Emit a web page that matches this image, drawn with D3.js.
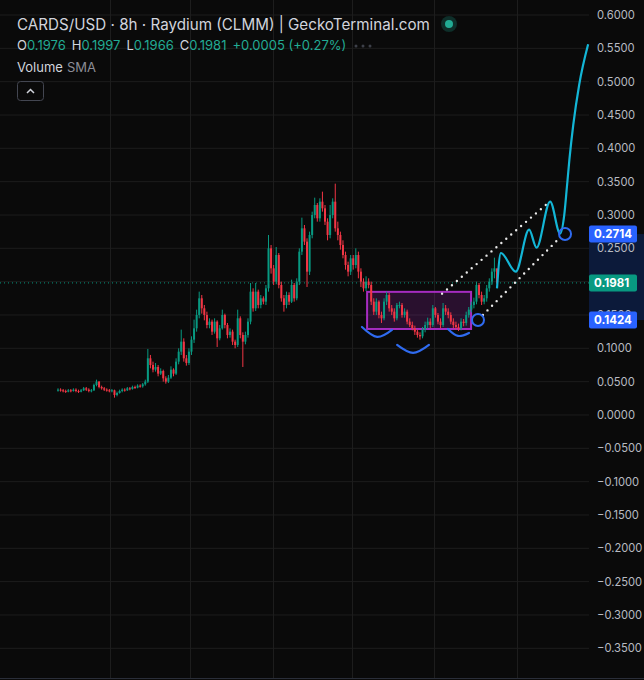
<!DOCTYPE html>
<html><head><meta charset="utf-8">
<script src="https://cdn.jsdelivr.net/npm/d3@7"></script>
<style>
html,body{margin:0;padding:0;background:#0a0a0a;}
svg{display:block;}
text{font-family:Inter,"Noto Sans",sans-serif;}
</style></head>
<body>
<svg id="chart" width="644" height="680"></svg>
<script>
// ---------- DATA ----------
const closes = [
0.038,0.037,0.036,0.035,0.037,0.036,0.038,0.036,0.035,0.037,0.040,0.038,0.036,0.037,
0.045,0.050,0.042,
0.040,0.038,0.037,0.036,0.037,
0.030,0.033,
0.036,0.038,0.037,0.040,0.039,0.042,0.041,0.044,0.043,
0.046,0.050,
0.085,
0.075,0.068,0.072,0.062,0.066,0.055,0.050,
0.056,0.068,0.062,0.080,0.095,0.110,
0.085,0.078,0.095,0.113,0.130,0.150,0.175,0.160,0.150,0.135,
0.140,0.125,0.140,0.115,0.130,0.150,0.135,0.120,0.125,0.110,
0.105,0.145,0.120,0.110,0.120,0.140,0.185,0.160,0.185,0.165,
0.175,0.170,0.190,0.250,0.220,0.200,0.240,0.195,0.175,0.165,
0.180,0.170,0.195,0.175,0.200,0.245,0.280,0.260,0.215,0.270,
0.300,0.315,0.295,0.320,0.310,0.290,0.270,0.300,0.320,0.280,
0.270,0.255,0.240,0.225,0.215,0.235,0.225,0.240,0.215,0.200,
0.190,0.200,0.195,0.170,0.155,0.170,0.150,0.145,0.170,0.180,
0.160,0.155,0.145,0.165,0.165,0.150,0.155,0.140,0.135,0.130,
0.125,0.120,0.118,0.128,0.135,0.140,0.135,0.160,0.150,0.140,
0.135,0.160,0.155,0.150,0.140,0.135,0.132,0.130,0.140,0.138,
0.150,0.158,0.165,0.170,0.195,0.180,0.170,0.175,0.190,0.200,
0.215,0.220,0.1981];
const highs = [
0.040,0.040,0.039,0.038,0.039,0.039,0.040,0.040,0.038,0.039,0.042,0.042,0.040,0.039,
0.047,0.053,0.051,
0.044,0.042,0.040,0.039,0.039,
0.038,0.035,
0.038,0.040,0.040,0.042,0.042,0.044,0.044,0.046,0.046,
0.048,0.053,
0.099,
0.090,0.080,0.078,0.075,0.070,0.068,0.058,
0.060,0.073,0.070,0.085,0.100,0.128,
0.115,0.090,0.100,0.118,0.143,0.158,0.185,0.180,0.165,0.155,
0.145,0.143,0.145,0.142,0.135,0.158,0.152,0.138,0.130,0.128,
0.113,0.158,0.148,0.124,0.125,0.145,0.198,0.190,0.198,0.188,
0.180,0.178,0.195,0.270,0.255,0.225,0.252,0.243,0.200,0.180,
0.185,0.184,0.203,0.198,0.205,0.250,0.296,0.285,0.265,0.275,
0.305,0.326,0.318,0.325,0.335,0.315,0.295,0.315,0.325,0.347,
0.290,0.275,0.262,0.245,0.230,0.240,0.240,0.250,0.245,0.220,
0.205,0.208,0.205,0.200,0.175,0.175,0.172,0.155,0.175,0.185,
0.183,0.165,0.160,0.168,0.170,0.168,0.160,0.158,0.145,0.140,
0.134,0.128,0.124,0.132,0.140,0.146,0.145,0.165,0.162,0.153,
0.145,0.168,0.165,0.160,0.154,0.145,0.140,0.137,0.145,0.144,
0.155,0.162,0.170,0.176,0.200,0.198,0.185,0.180,0.195,0.205,
0.220,0.236,0.1997];
const lows = [
0.035,0.035,0.034,0.033,0.034,0.034,0.035,0.034,0.033,0.034,0.036,0.036,0.034,0.034,
0.036,0.043,0.040,
0.038,0.036,0.035,0.034,0.034,
0.026,0.028,
0.032,0.034,0.035,0.036,0.037,0.038,0.039,0.040,0.041,
0.041,0.044,
0.048,
0.070,0.064,0.065,0.058,0.060,0.050,0.047,
0.048,0.054,0.058,0.060,0.076,0.090,
0.080,0.074,0.075,0.090,0.108,0.125,0.145,0.152,0.142,0.130,
0.130,0.120,0.122,0.102,0.112,0.128,0.130,0.115,0.116,0.105,
0.100,0.102,0.115,0.072,0.106,0.116,0.136,0.155,0.156,0.160,
0.160,0.166,0.165,0.185,0.212,0.195,0.196,0.190,0.170,0.155,
0.160,0.165,0.168,0.170,0.172,0.195,0.240,0.255,0.192,0.210,
0.265,0.295,0.290,0.290,0.305,0.285,0.262,0.265,0.295,0.275,
0.262,0.248,0.235,0.218,0.208,0.210,0.218,0.220,0.205,0.192,
0.185,0.186,0.190,0.165,0.150,0.150,0.145,0.138,0.142,0.165,
0.155,0.150,0.140,0.142,0.160,0.146,0.146,0.136,0.132,0.127,
0.120,0.116,0.113,0.115,0.124,0.130,0.130,0.132,0.146,0.136,
0.130,0.132,0.150,0.145,0.136,0.130,0.128,0.126,0.127,0.133,
0.134,0.146,0.154,0.160,0.166,0.175,0.165,0.166,0.170,0.185,
0.195,0.205,0.1966];
const firstOpen = 0.037;

const priceTicks = [0.6,0.55,0.5,0.45,0.4,0.35,0.3,0.25,0.2,0.15,0.1,0.05,0,-0.05,-0.1,-0.15,-0.2,-0.25,-0.3,-0.35];
const lastPrice = 0.1981;
const markLevels = [0.2714, 0.1424];

// drawings (bar index, price)
const projectionIdx   = [171.0,172.5,178.3,183.5,186.4,191.7,195.6,197.2,198.3,199.2,200.7,203.0,206.5];
const projectionPrice = [0.190,0.243,0.215,0.278,0.251,0.320,0.272,0.300,0.345,0.383,0.435,0.495,0.556];
const channelUpper = [[149.6,0.182],[191.5,0.320]];
const channelLower = [[165.5,0.150],[195.5,0.266]];
const boxRange = {i0:120.4, i1:160.9, p0:0.1847, p1:0.129};
const arcs = [
  [[118.4,0.132],[124.3,0.1171],[130.1,0.1276]],
  [[132.1,0.1051],[138.3,0.0931],[144.5,0.1051]],
  [[151.9,0.1291],[155.8,0.1186],[160.1,0.1231]]
];
const circlePts = [[163.6,0.1424],[197.5,0.2714]];
const vGridIdx = [20.3,51.5,83.9,114.6,146.5,178.9];

// ---------- DRAW ----------
const svg = d3.select("#chart");
const W = 644, H = 680, plotR = 589;
const x = d3.scaleLinear().domain([0,171]).range([58,497]);
const y = d3.scaleLinear().domain([-0.35,0.6]).range([648.3,15]);

svg.append("rect").attr("width",W).attr("height",H).attr("fill","#0a0a0a");

// grid
const grid = svg.append("g");
grid.selectAll("line.h").data(priceTicks).join("line")
  .attr("x1",0).attr("x2",plotR).attr("y1",d=>y(d)).attr("y2",d=>y(d))
  .attr("stroke","#1d1d1d").attr("stroke-width",1);
grid.selectAll("line.v").data(vGridIdx).join("line")
  .attr("x1",d=>Math.round(x(d))+0.5).attr("x2",d=>Math.round(x(d))+0.5).attr("y1",0).attr("y2",678)
  .attr("stroke","#1d1d1d").attr("stroke-width",1);

// last price dotted line
svg.append("line").attr("x1",0).attr("x2",plotR).attr("y1",y(lastPrice)).attr("y2",y(lastPrice))
  .attr("stroke","#089981").attr("stroke-width",1).attr("stroke-dasharray","1,3");

// box
svg.append("rect")
  .attr("x",x(boxRange.i0)).attr("y",y(boxRange.p0))
  .attr("width",x(boxRange.i1)-x(boxRange.i0)).attr("height",y(boxRange.p1)-y(boxRange.p0))
  .attr("fill","rgba(156,39,176,0.22)").attr("stroke","#a52cc0").attr("stroke-width",2);

// candles
const candles = closes.map((c,i)=>({i, o: i===0?firstOpen:closes[i-1], h: highs[i], l: lows[i], c}));
const cg = svg.append("g");
cg.selectAll("line").data(candles).join("line")
  .attr("x1",d=>x(d.i)).attr("x2",d=>x(d.i))
  .attr("y1",d=>y(d.h)).attr("y2",d=>y(d.l))
  .attr("stroke",d=>d.c>=d.o?"#089981":"#f23645").attr("stroke-width",1);
cg.selectAll("rect").data(candles).join("rect")
  .attr("x",d=>x(d.i)-1).attr("width",2)
  .attr("y",d=>y(Math.max(d.o,d.c)))
  .attr("height",d=>Math.max(1,Math.abs(y(d.o)-y(d.c))))
  .attr("fill",d=>d.c>=d.o?"#089981":"#f23645");

// dotted channel
function dotted(pts){
  svg.append("line").attr("x1",x(pts[0][0])).attr("y1",y(pts[0][1]))
    .attr("x2",x(pts[1][0])).attr("y2",y(pts[1][1]))
    .attr("stroke","#e8e8e8").attr("stroke-width",2.4)
    .attr("stroke-linecap","round").attr("stroke-dasharray","0,6.5");
}
dotted(channelUpper); dotted(channelLower);

// arcs
const arcLine = d3.line().x(d=>x(d[0])).y(d=>y(d[1])).curve(d3.curveNatural);
svg.selectAll("path.arc").data(arcs).join("path").attr("class","arc")
  .attr("d",arcLine).attr("fill","none").attr("stroke","#2f6bf0").attr("stroke-width",2.2)
  .attr("stroke-linecap","round");

// projection
const proj = projectionIdx.map((d,i)=>[d,projectionPrice[i]]);
svg.append("path").attr("d",d3.line().x(d=>x(d[0])).y(d=>y(d[1])).curve(d3.curveMonotoneX)(proj))
  .attr("fill","none").attr("stroke","#13b6d6").attr("stroke-width",2.2);

// circles
svg.selectAll("circle.mk").data(circlePts).join("circle").attr("class","mk")
  .attr("cx",d=>x(d[0])).attr("cy",d=>y(d[1])).attr("r",6)
  .attr("fill","none").attr("stroke","#2f6bf0").attr("stroke-width",2);

// price axis
svg.append("rect").attr("x",plotR).attr("y",y(markLevels[0])).attr("width",W-plotR)
  .attr("height",y(markLevels[1])-y(markLevels[0])).attr("fill","#0c1a3a");
const fmt = d3.format(".4f");
const axis = d3.axisRight(y).tickValues(priceTicks).tickSize(0).tickPadding(8).tickFormat(fmt);
const ag = svg.append("g").attr("transform",`translate(${plotR},0)`).call(axis);
ag.select(".domain").remove();
ag.selectAll("text").attr("fill","#b8bbc2").attr("font-size",11.2).attr("font-family","Inter,'Noto Sans',sans-serif");

// price labels
const labels = [
  {v:markLevels[0], col:"#2962ff"},
  {v:lastPrice, col:"#089981"},
  {v:markLevels[1], col:"#2962ff"}
];
const lg = svg.append("g");
lg.selectAll("rect").data(labels).join("rect")
  .attr("x",plotR).attr("y",d=>y(d.v)-8.5).attr("width",48).attr("height",17).attr("rx",2)
  .attr("fill",d=>d.col);
lg.selectAll("text").data(labels).join("text")
  .attr("x",plotR+5).attr("y",d=>y(d.v)+4.3).attr("fill","#fff").attr("font-size",11.5)
  .attr("font-weight",700).text(d=>fmt(d.v));

// bottom border
svg.append("line").attr("x1",0).attr("x2",W).attr("y1",678.5).attr("y2",678.5).attr("stroke","#2a2e39");

// header
svg.append("text").attr("x",17).attr("y",30).attr("fill","#d1d4dc").attr("font-size",15.2)
  .text("CARDS/USD · 8h · Raydium (CLMM) | GeckoTerminal.com");
svg.append("circle").attr("cx",449).attr("cy",24).attr("r",8).attr("fill","#0e2f2a");
svg.append("circle").attr("cx",449).attr("cy",24).attr("r",4).attr("fill","#22ab94");

const ohlc = [["O","0.1976"],["H","0.1997"],["L","0.1966"],["C","0.1981"]];
const t2 = svg.append("text").attr("x",17).attr("y",50).attr("font-size",13);
ohlc.forEach(([k,v],i)=>{
  t2.append("tspan").attr("fill","#d1d4dc").attr("dx",i?6:0).text(k);
  t2.append("tspan").attr("fill","#22ab94").text(v);
});
t2.append("tspan").attr("fill","#22ab94").attr("dx",6).text("+0.0005 (+0.27%)");
svg.selectAll("circle.dot").data([356,363,370]).join("circle").attr("class","dot")
  .attr("cx",d=>d).attr("cy",46).attr("r",1.5).attr("fill","#3d4049");

const t3 = svg.append("text").attr("x",17).attr("y",72).attr("font-size",13);
t3.append("tspan").attr("fill","#d1d4dc").text("Volume");
t3.append("tspan").attr("fill","#8a8d96").attr("dx",4).text("SMA");

svg.append("rect").attr("x",17.5).attr("y",81.5).attr("width",26).attr("height",19).attr("rx",3)
  .attr("fill","none").attr("stroke","#434651");
svg.append("path").attr("d","M27,93 L30.5,89.5 L34,93").attr("fill","none")
  .attr("stroke","#d1d4dc").attr("stroke-width",1.5);
</script>
</body></html>
